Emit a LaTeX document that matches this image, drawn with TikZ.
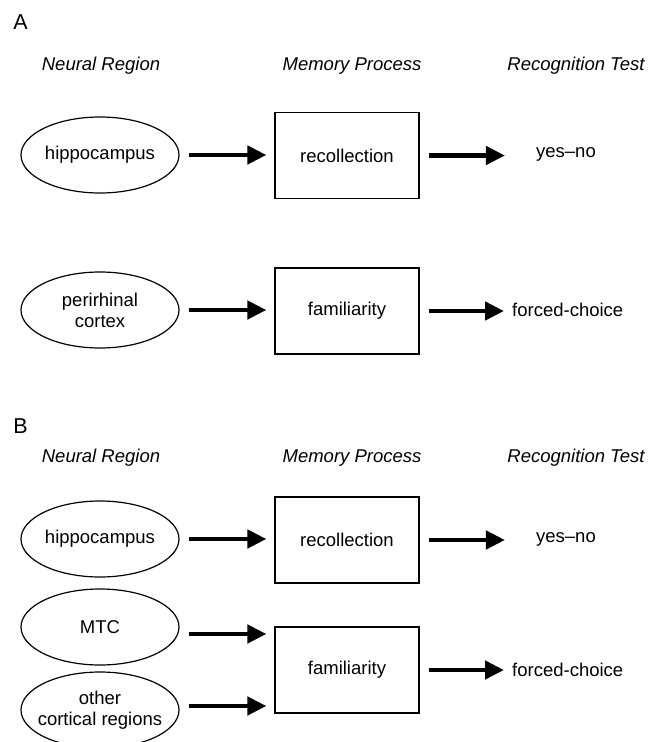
\documentclass[tikz,border=0pt]{standalone}
\usepackage{fontspec}
\setmainfont{Liberation Sans}
\usetikzlibrary{shapes.geometric,arrows.meta}
\begin{document}
\begin{tikzpicture}[x=1pt,y=-1pt,
  txt/.style={font=\fontsize{18.5}{21}\selectfont},
  region/.style={txt,ellipse,draw,line width=1.2pt,minimum width=158pt,
    minimum height=76pt,inner sep=0pt,align=center},
  process/.style={txt,rectangle,draw,line width=1.2pt,minimum width=144pt,
    minimum height=86pt,inner sep=0pt},
  testlabel/.style={txt,inner sep=0pt},
  header/.style={font=\fontsize{18.5}{21}\selectfont\itshape,inner sep=0pt},
  panel/.style={font=\fontsize{21.5}{24}\selectfont,inner sep=0pt},
  fat/.style={line width=4.5pt,-{Triangle[length=19pt,width=18pt]}}
]
\clip (0,0) rectangle (666,742);

% ---- Panel A ----
\node[panel] (labA) at (20.5,22) {A};
\node[header] (nrA) at (101,66) {Neural Region};
\node[header] (mpA) at (352,66) {Memory Process};
\node[header] (rtA) at (576,66) {Recognition Test};

\node[region] (hipA) at (100,155) {hippocampus};
\node[process] (recA) at (347,155.5) {recollection};
\node[testlabel] (ynA) at (566,154) {yes–no};

\node[region] (prc) at (100,310) {perirhinal\\cortex};
\node[process] (famA) at (347,311) {familiarity};
\node[testlabel,anchor=west] (fcA) at (512,310) {forced-choice};

\draw[fat,shorten <=9pt,shorten >=8pt] (hipA.east) -- (hipA.east -| recA.west);
\draw[fat,shorten <=9pt,shorten >=31pt] (recA.east) -- (recA.east -| ynA.west);
\draw[fat,shorten <=9pt,shorten >=8pt] (prc.east) -- (prc.east -| famA.west);
\draw[fat,shorten <=9pt,shorten >=8pt] (famA.east) -- (famA.east -| fcA.west);

% ---- Panel B ----
\node[panel] (labB) at (20.5,426) {B};
\node[header] (nrB) at (101,458) {Neural Region};
\node[header] (mpB) at (352,458) {Memory Process};
\node[header] (rtB) at (576,458) {Recognition Test};

\node[region] (hipB) at (100,539) {hippocampus};
\node[process] (recB) at (347,540) {recollection};
\node[testlabel] (ynB) at (566,539) {yes–no};

\node[region] (mtc) at (100,627) {MTC};
% wide two-line label: negative x separation keeps the ellipse at the common size
\node[region,inner xsep=-9pt] (ocr) at (100,710) {other\\cortical regions};
\node[process] (famB) at (347,670) {familiarity};
\node[testlabel,anchor=west] (fcB) at (512,670) {forced-choice};

\draw[fat,shorten <=9pt,shorten >=8pt] (hipB.east) -- (hipB.east -| recB.west);
\draw[fat,shorten <=9pt,shorten >=31pt] (recB.east) -- (recB.east -| ynB.west);
\draw[fat,shorten <=9pt,shorten >=8pt] ([yshift=-7pt]mtc.east) -- ([yshift=-7pt]mtc.east -| famB.west);
\draw[fat,shorten <=9pt,shorten >=8pt] ([yshift=4pt]ocr.east) -- ([yshift=4pt]ocr.east -| famB.west);
\draw[fat,shorten <=9pt,shorten >=8pt] (famB.east) -- (famB.east -| fcB.west);
\end{tikzpicture}
\end{document}
